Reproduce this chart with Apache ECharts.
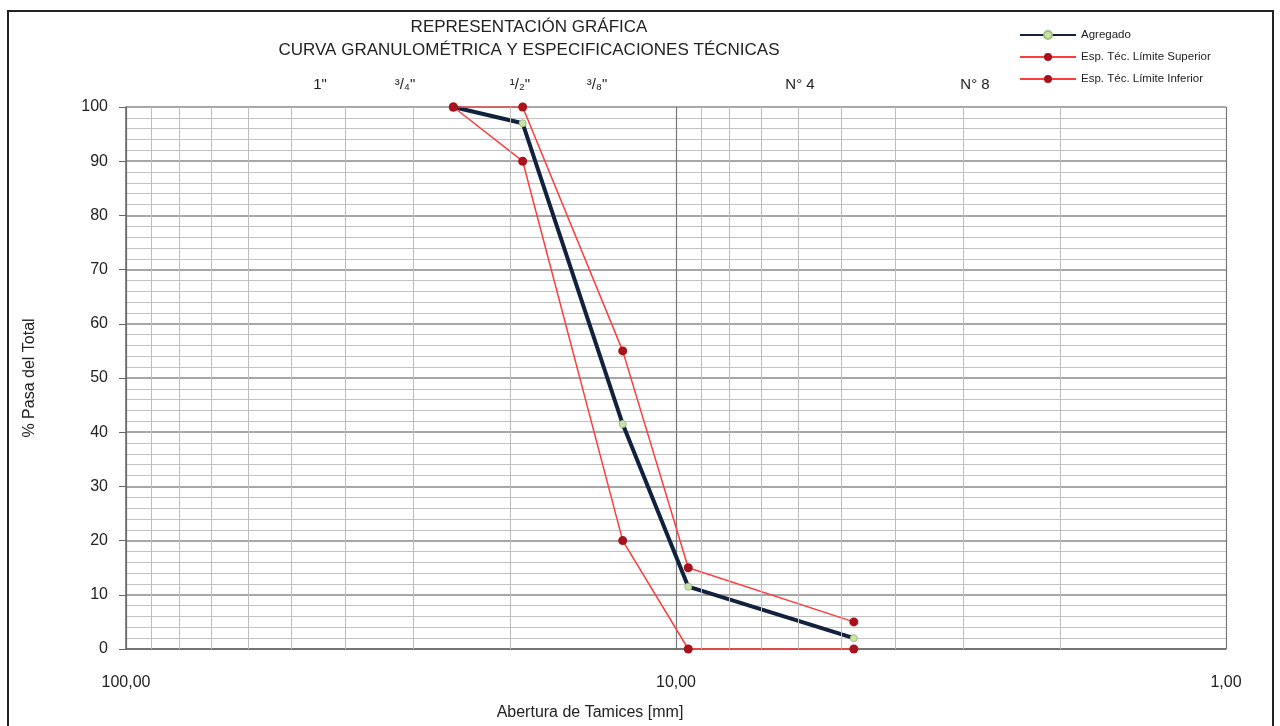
<!DOCTYPE html>
<html>
<head>
<meta charset="utf-8">
<script src="https://cdn.jsdelivr.net/npm/echarts@6/dist/echarts.min.js"></script>
<style>
html,body{margin:0;padding:0;background:#fff;}
#chart{width:1280px;height:726px;}
</style>
</head>
<body>
<div id="chart"></div>
<script>
// ---- data ----
const sieveSizes = [25.4, 19.0, 12.5, 9.5, 4.75];          // mm
const agregado   = [100, 97, 41.5, 11.5, 2];
const limSup     = [100, 100, 55, 15, 5];
const limInf     = [100, 90, 20, 0, 0];
const minorXGrid = [90, 80, 70, 60, 50, 40, 30, 20, 9, 8, 7, 6, 5, 4, 3, 2];
const sieveLabels = ['1"', '³/₄"', '¹/₂"', '³/₈"', 'N° 4', 'N° 8'];
const sieveLabelX = [320, 405, 520, 597, 800, 975];
const titleLines = ['REPRESENTACIÓN GRÁFICA', 'CURVA GRANULOMÉTRICA Y ESPECIFICACIONES TÉCNICAS'];
const seriesNames = ['Agregado', 'Esp. Téc. Límite Superior', 'Esp. Téc. Límite Inferior'];

const pairs = (ys) => sieveSizes.map((x, i) => [x, ys[i]]);
const font = 'Liberation Sans, Arial, sans-serif';

const chart = echarts.init(document.getElementById('chart'));

const graphics = [
  { type: 'rect', shape: { x: 8, y: 11, width: 1265, height: 730 },
    style: { fill: 'none', stroke: '#222', lineWidth: 2 }, silent: true }
];
titleLines.forEach((t, i) => {
  graphics.push({ type: 'text', x: 529, y: 27 + i * 23,
    style: { text: t, font: '17px "Liberation Sans", Arial, sans-serif', fill: '#222', align: 'center', verticalAlign: 'middle' } });
});
sieveLabels.forEach((t, i) => {
  graphics.push({ type: 'text', x: sieveLabelX[i], y: 85,
    style: { text: t, font: '15px "Liberation Sans", Arial, sans-serif', fill: '#222', align: 'center', verticalAlign: 'middle' } });
});

chart.setOption({
  backgroundColor: '#fff',
  animation: false,
  graphic: graphics,
  legend: {
    orient: 'vertical', left: 1014, top: 24, itemGap: 10, itemWidth: 56, itemHeight: 10,
    data: seriesNames,
    textStyle: { fontFamily: font, fontSize: 11.5, color: '#222' }
  },
  grid: { left: 126, right: 54, top: 107, bottom: 70 },
  xAxis: {
    type: 'log', logBase: 10, min: 1, max: 100, inverse: true,
    name: 'Abertura de Tamices [mm]', nameLocation: 'middle', nameGap: 56,
    nameTextStyle: { fontFamily: font, fontSize: 16, color: '#222', padding: [0, 172, 0, 0] },
    axisLine: { lineStyle: { color: '#666', width: 1.5 } },
    axisTick: { show: false },
    axisLabel: { fontFamily: font, fontSize: 16, color: '#222', margin: 26,
      formatter: v => Number(v).toFixed(2).replace('.', ',') },
    splitLine: { show: true, lineStyle: { color: '#777', width: 1.2 } }
  },
  yAxis: {
    type: 'value', min: 0, max: 100, interval: 10,
    name: '% Pasa del Total', nameLocation: 'middle', nameGap: 88,
    nameTextStyle: { fontFamily: font, fontSize: 16, color: '#222' },
    axisLine: { show: true, lineStyle: { color: '#666', width: 1.5 } },
    axisTick: { show: true, length: 7, lineStyle: { color: '#666' } },
    axisLabel: { fontFamily: font, fontSize: 16, color: '#222', margin: 18 },
    splitLine: { show: true, lineStyle: { color: '#8a8a8a', width: 1.5 } },
    minorTick: { show: false, splitNumber: 5 },
    minorSplitLine: { show: true, lineStyle: { color: '#c2c2c2', width: 1 } }
  },
  series: [
    {
      name: '_grid', type: 'line', data: [], silent: true,
      markLine: {
        silent: true, symbol: 'none', label: { show: false },
        lineStyle: { color: '#bdbdbd', width: 1, type: 'solid' },
        data: minorXGrid.map(v => ({ xAxis: v }))
      }
    },
    {
      name: seriesNames[0], type: 'line', data: pairs(agregado), z: 3,
      lineStyle: { color: '#11213e', width: 4 },
      itemStyle: { color: '#c9e3a8', borderColor: '#9cc07a', borderWidth: 1 },
      symbol: 'circle', symbolSize: 7, color: '#11213e'
    },
    {
      name: seriesNames[1], type: 'line', data: pairs(limSup), z: 4,
      lineStyle: { color: '#ff3c3c', width: 1.5 },
      itemStyle: { color: '#a8121a' },
      symbol: 'circle', symbolSize: 9, color: '#ff3c3c'
    },
    {
      name: seriesNames[2], type: 'line', data: pairs(limInf), z: 4,
      lineStyle: { color: '#ff3c3c', width: 1.5 },
      itemStyle: { color: '#a8121a' },
      symbol: 'circle', symbolSize: 9, color: '#ff3c3c'
    }
  ]
});
</script>
</body>
</html>
